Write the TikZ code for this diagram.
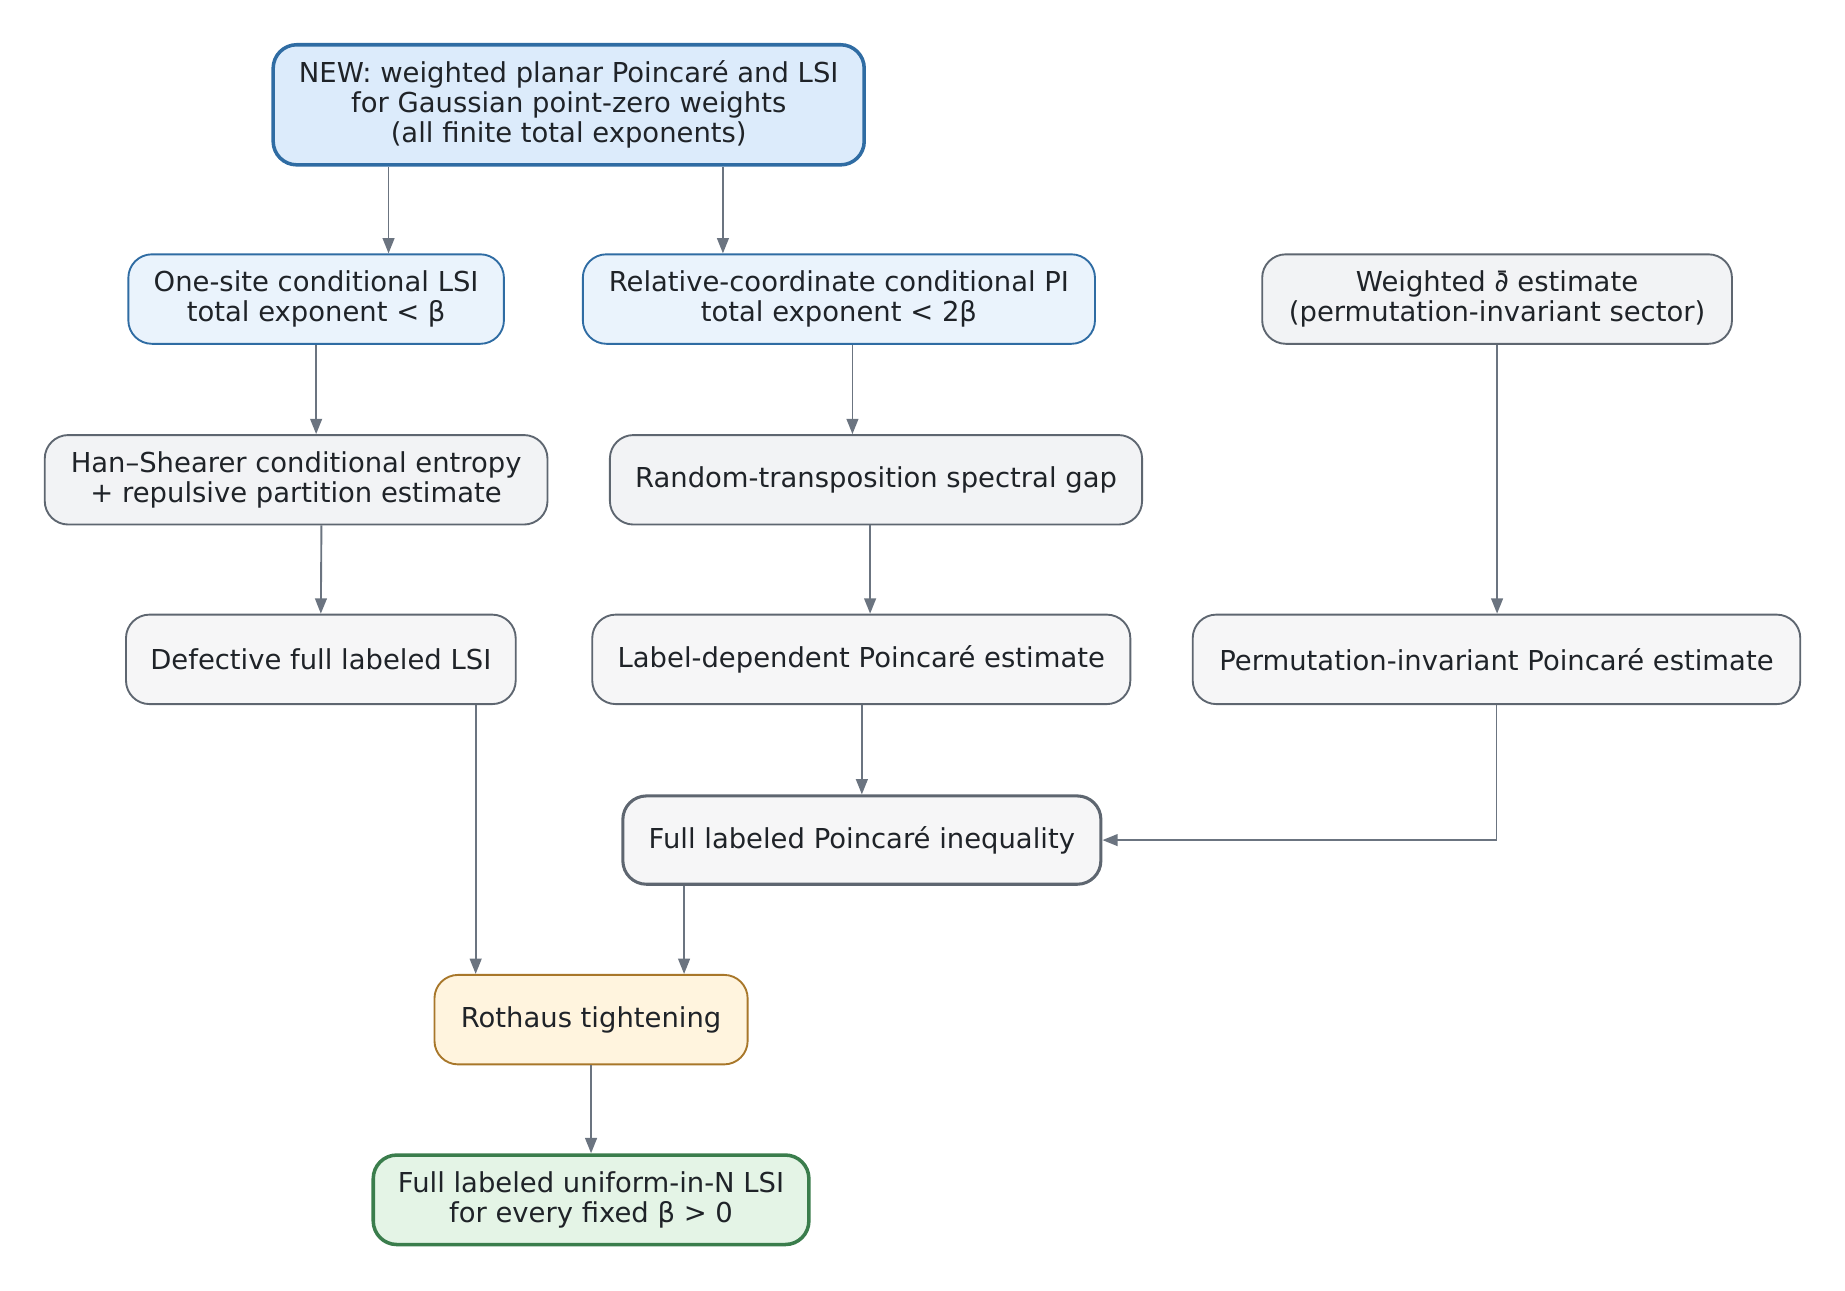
\documentclass[tikz,border=0pt]{standalone}
\usepackage{fontspec}
\setmainfont{DejaVu Sans}
\usetikzlibrary{arrows.meta}
\definecolor{txt}{HTML}{1F2328}
\definecolor{edge}{HTML}{6B7480}
\definecolor{bluebd}{HTML}{2F6CA3}
\definecolor{bluefillA}{HTML}{DCEBFB}
\definecolor{bluefillB}{HTML}{EAF3FC}
\definecolor{graybd}{HTML}{5E6670}
\definecolor{grayfillA}{HTML}{F2F3F5}
\definecolor{grayfillB}{HTML}{F6F6F7}
\definecolor{goldbd}{HTML}{A8772A}
\definecolor{goldfill}{HTML}{FFF4DE}
\definecolor{greenbd}{HTML}{3A7D4C}
\definecolor{greenfill}{HTML}{E4F4E6}
\tikzset{
  box/.style={draw, rounded corners=20pt, align=center, text=txt, inner sep=0pt,
    font=\fontsize{23.3}{25.5}\selectfont, line width=1.6pt},
  newbox/.style={box, draw=bluebd, fill=bluefillA, line width=3pt},
  bluebox/.style={box, draw=bluebd, fill=bluefillB},
  graybox/.style={box, draw=graybd, fill=grayfillA},
  lightbox/.style={box, draw=graybd, fill=grayfillB},
  keybox/.style={box, draw=graybd, fill=grayfillB, line width=2.6pt},
  goldbox/.style={box, draw=goldbd, fill=goldfill},
  greenbox/.style={box, draw=greenbd, fill=greenfill, line width=3pt},
  conn/.style={draw=edge, line width=1.6pt, -{Triangle[length=13pt,width=10pt]}}
}
\begin{document}
\begin{tikzpicture}[x=1pt,y=-1pt]
\useasboundingbox (0,0) rectangle (1567,1096);
\node[newbox, minimum width=502pt, minimum height=102pt] (new) at (483,89)
  {NEW: weighted planar Poincaré and LSI\\for Gaussian point-zero weights\\(all finite total exponents)};
\node[bluebox, minimum width=319pt, minimum height=76pt] (one) at (268.5,254)
  {One-site conditional LSI\\total exponent < β};
\node[bluebox, minimum width=435pt, minimum height=76pt] (rel) at (712.5,254)
  {Relative-coordinate conditional PI\\total exponent < 2β};
\node[graybox, minimum width=399pt, minimum height=76pt] (wei) at (1271.5,254)
  {Weighted ∂̄ estimate\\(permutation-invariant sector)};
\node[graybox, minimum width=427pt, minimum height=76pt] (han) at (251.5,407.5)
  {Han–Shearer conditional entropy\\+ repulsive partition estimate};
\node[graybox, minimum width=452pt, minimum height=76pt] (rnd) at (744,407.5)
  {Random-transposition spectral gap};
\node[lightbox, minimum width=331pt, minimum height=76pt] (def) at (272.5,560)
  {Defective full labeled LSI};
\node[lightbox, minimum width=457pt, minimum height=76pt] (lab) at (731.5,560)
  {Label-dependent Poincaré estimate};
\node[lightbox, minimum width=516pt, minimum height=76pt] (per) at (1271,560)
  {Permutation-invariant Poincaré estimate};
\node[keybox, minimum width=406pt, minimum height=75pt] (full) at (732,713.5)
  {Full labeled Poincaré inequality};
\node[goldbox, minimum width=266pt, minimum height=76pt] (rot) at (502,866)
  {Rothaus tightening};
\node[greenbox, minimum width=370pt, minimum height=76pt] (fin) at (502,1019)
  {Full labeled uniform-in-N LSI\\for every fixed β > 0};
\draw[conn] (330,0 |- new.south) -- (330,0 |- one.north);
\draw[conn] (614,0 |- new.south) -- (614,0 |- rel.north);
\draw[conn] (one.south) -- (han.north -| one.south);
\draw[conn] (724,0 |- rel.south) -- (724,0 |- rnd.north);
\draw[conn] (wei.south) -- (wei.south |- per.north);
\draw[conn] (273,0 |- han.south) -- (def.north);
\draw[conn] (739,0 |- rnd.south) -- (739,0 |- lab.north);
\draw[conn] (732,0 |- lab.south) -- (full.north);
\draw[conn] (per.south) |- (full.east);
\draw[conn] (404,0 |- def.south) -- (404,0 |- rot.north);
\draw[conn] (581,0 |- full.south) -- (581,0 |- rot.north);
\draw[conn] (rot.south) -- (fin.north);
\end{tikzpicture}
\end{document}
